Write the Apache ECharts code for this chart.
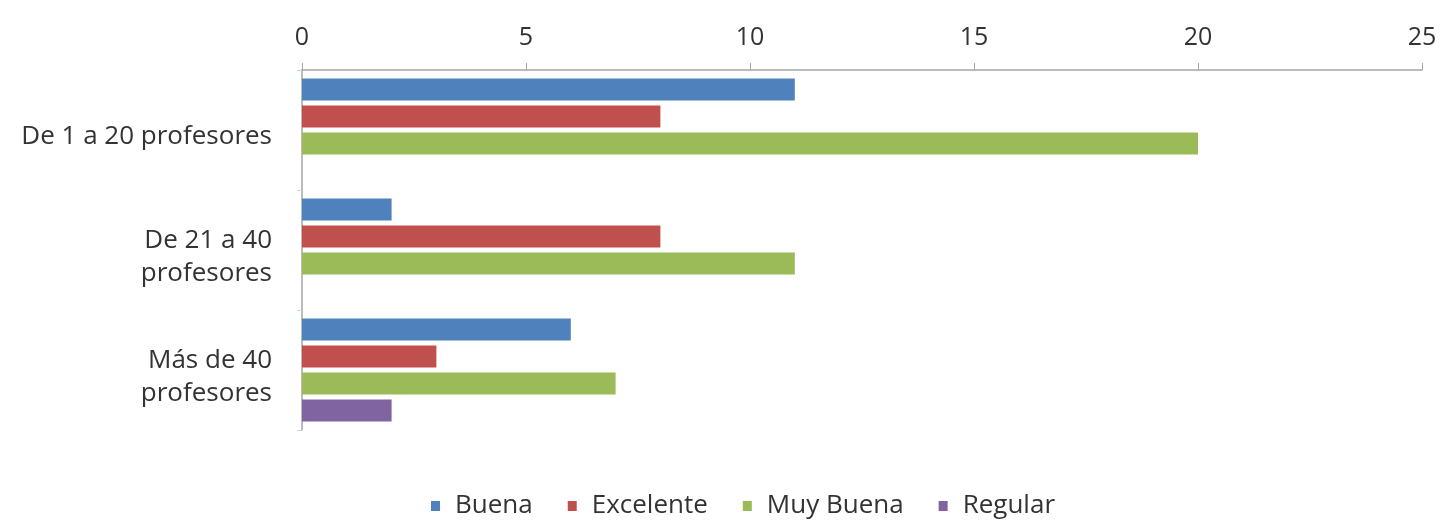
<!DOCTYPE html>
<html>
<head>
<meta charset="utf-8">
<script src="https://cdn.jsdelivr.net/npm/echarts@6/dist/echarts.min.js"></script>
<style>html,body{margin:0;padding:0;background:#fff;}#chart{width:1450px;height:526px;}</style>
</head>
<body>
<div id="chart"></div>
<script>
var categories = ['De 1 a 20 profesores', 'De 21 a 40\nprofesores', 'Más de 40\nprofesores'];
var seriesNames = ['Buena', 'Excelente', 'Muy Buena', 'Regular'];
var buena = [11, 2, 6];
var excelente = [8, 8, 3];
var muyBuena = [20, 11, 7];
var regular = [null, null, 2];
var colors = ['#4F81BD', '#C0504D', '#9BBB59', '#8064A2'];
var xTicks = [0, 5, 10, 15, 20, 25];

var values = [buena, excelente, muyBuena, regular];
var font = '"Open Sans", sans-serif';
var chart = echarts.init(document.getElementById('chart'));
chart.setOption({
  animation: false,
  color: colors,
  grid: { left: 302, right: 28, top: 70, bottom: 96, containLabel: false },
  xAxis: {
    type: 'value', position: 'top', min: xTicks[0], max: xTicks[xTicks.length - 1], interval: 5,
    axisLine: { show: true, lineStyle: { color: '#a6a6a6', width: 1.5 } },
    axisTick: { show: true, inside: false, length: 7, lineStyle: { color: '#a6a6a6' } },
    splitLine: { show: false },
    axisLabel: { color: '#333333', fontSize: 25, fontFamily: font, margin: 20 }
  },
  yAxis: {
    type: 'category', data: categories, inverse: true,
    axisLine: { show: true, lineStyle: { color: '#a6a6a6', width: 1.5 } },
    axisTick: { show: true, length: 5, lineStyle: { color: '#d0d0d0' } },
    axisLabel: {
      color: '#333333', fontSize: 26, fontFamily: font, margin: 30, lineHeight: 33, align: 'right',
      formatter: function (v) {
        return '{s| }\n' + v.split('\n').map(function (l) { return '{a|' + l + '}'; }).join('\n');
      },
      rich: {
        s: { fontSize: 2, lineHeight: 14 },
        a: { color: '#333333', fontSize: 26, fontFamily: font, lineHeight: 33, align: 'right' }
      }
    }
  },
  legend: {
    bottom: 2, left: 426, itemWidth: 9, itemHeight: 10, itemGap: 35,
    icon: 'rect',
    textStyle: { color: '#333333', fontSize: 26, fontFamily: font, padding: [0, 0, 0, 10] },
    data: seriesNames
  },
  series: seriesNames.map(function (n, i) {
    return { name: n, type: 'bar', data: values[i], barWidth: 22, barGap: '23%' };
  })
});
</script>
</body>
</html>
